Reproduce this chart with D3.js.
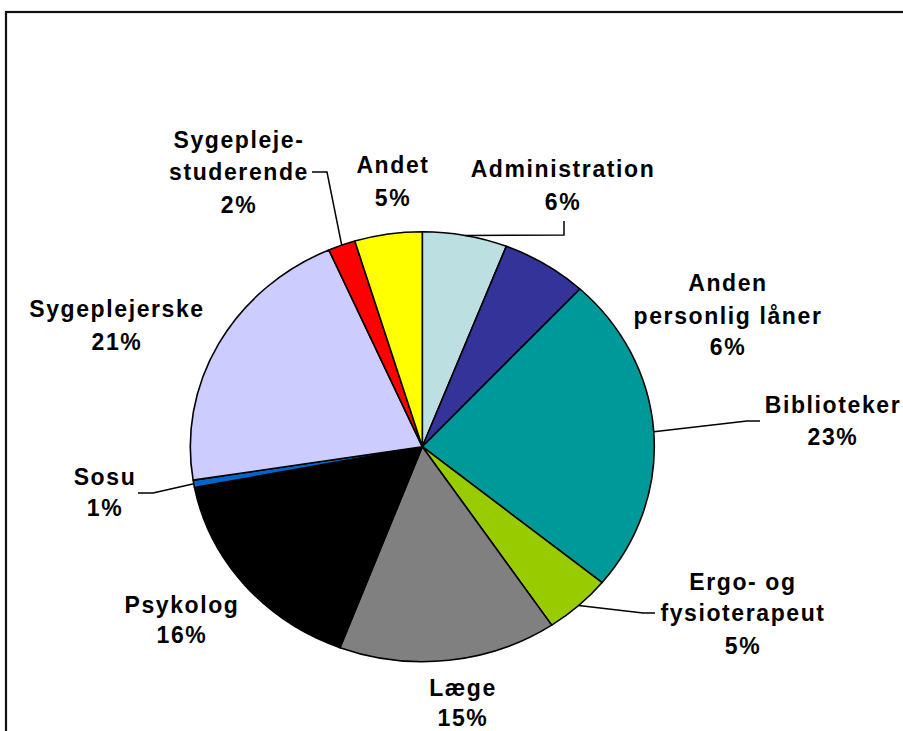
<!DOCTYPE html>
<html><head><meta charset="utf-8">
<script src="https://cdn.jsdelivr.net/npm/d3@7"></script>
<style>html,body{margin:0;padding:0;background:#fff;overflow:hidden}</style>
</head><body>
<svg id="chart" width="903" height="731"></svg>
<script>
// ---- data ----
const categories = ["Administration","Anden personlig låner","Biblioteker","Ergo- og fysioterapeut","Læge","Psykolog","Sosu","Sygeplejerske","Sygeplejestuderende","Andet"];
const values = [5.9, 6.0, 24.0, 4.7, 15.2, 16.2, 0.55, 20.9, 1.9, 4.7];
const percentLabels = ["6%","6%","23%","5%","15%","16%","1%","21%","2%","5%"];
const labelLines = [["Administration"],["Anden","personlig låner"],["Biblioteker"],["Ergo- og","fysioterapeut"],["Læge"],["Psykolog"],["Sosu"],["Sygeplejerske"],["Sygepleje-","studerende"],["Andet"]];
const colors = ["#BCE0E2","#333399","#009999","#99CC00","#808080","#000000","#0066CC","#CCCCFF","#FF0000","#FFFF00"];

// ---- layout ----
const cx = 422.3, cy = 446.7, rx = 232, ry = 215;
const labelPos = [
  {x:563, y:[169,202], leader:[[564,221],[564,235]]},
  {x:728, y:[283,316,347]},
  {x:833, y:[405,437], leader:[[760,421],[747,421]]},
  {x:743, y:[582,613,646], leader:[[655,613],[643,613]]},
  {x:463, y:[688,718]},
  {x:182, y:[605,635]},
  {x:105, y:[477,508], leader:[[138,493],[153,493]]},
  {x:117, y:[309,342]},
  {x:239, y:[140,172,205], leader:[[312,172],[327,172]]},
  {x:393, y:[165,198]}
];

const svg = d3.select("#chart");
svg.append("rect").attr("x",6).attr("y",12).attr("width",1200).attr("height",1200)
  .attr("fill","none").attr("stroke","#111").attr("stroke-width",2.2);

const pie = d3.pie().sort(null).value(d=>d)(values);
const arc = d3.arc().innerRadius(0).outerRadius(rx);

const g = svg.append("g").attr("transform",`translate(${cx},${cy}) scale(1,${ry/rx})`);
g.selectAll("path").data(pie).join("path")
  .attr("d",arc)
  .attr("fill",(d,i)=>colors[i])
  .attr("stroke","#000").attr("stroke-width",1.6)
  .attr("stroke-linejoin","round")
  .attr("vector-effect","non-scaling-stroke");

// leader lines
const line = d3.line();
pie.forEach((d,i)=>{
  const lp = labelPos[i];
  if(!lp.leader) return;
  const a = (d.startAngle+d.endAngle)/2;
  const rim = [cx + rx*Math.sin(a), cy - ry*Math.cos(a)];
  svg.append("path").attr("d",line([...lp.leader, rim]))
    .attr("fill","none").attr("stroke","#000").attr("stroke-width",1.5);
});

// labels
pie.forEach((d,i)=>{
  const lp = labelPos[i];
  const lines = [...labelLines[i], percentLabels[i]];
  lines.forEach((t,j)=>{
    svg.append("text").attr("x",lp.x).attr("y",lp.y[j]).attr("dy","0.36em")
      .attr("text-anchor","middle")
      .style("font-family","'Liberation Sans', Arial, sans-serif")
      .style("font-weight","bold").style("font-size","23px")
      .style("letter-spacing","1.6px")
      .attr("fill","#000").text(t);
  });
});
</script>
</body></html>
